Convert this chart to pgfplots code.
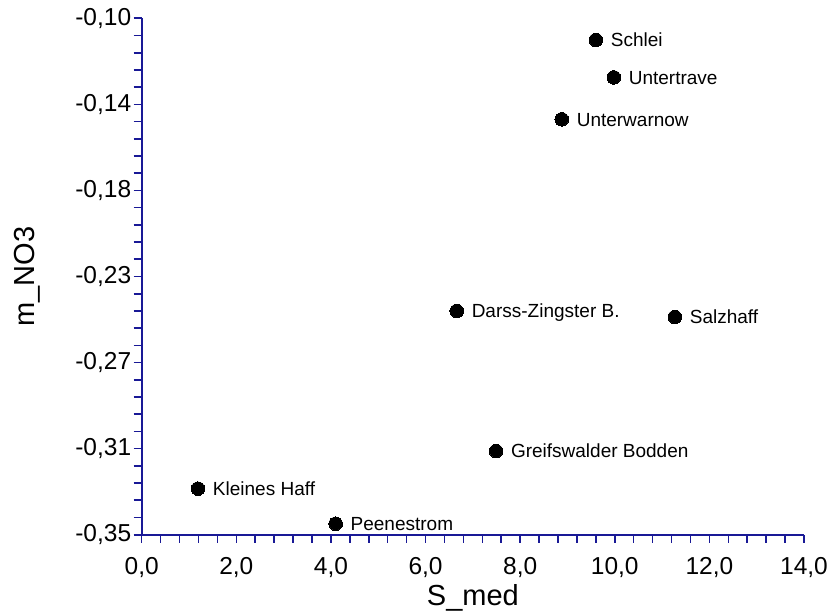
\documentclass[border=0pt]{standalone}
\usepackage{fontspec}
\setmainfont{Liberation Sans}
\usepackage{pgfplots}
\pgfplotsset{compat=1.18}
\definecolor{axblue}{RGB}{25,25,150}
\begin{document}
\begin{tikzpicture}
\begin{axis}[
  scale only axis, width=662.3bp, height=516.4bp,
  xmin=0, xmax=14, ymin=-0.35, ymax=-0.10,
  clip=false,
  axis x line=bottom, axis y line=left,
  axis line style={-, draw=axblue, line width=1.8bp},
  tick style={draw=axblue, line width=1.6bp},
  major tick style={draw=axblue, line width=1.6bp},
  minor tick style={draw=axblue, line width=1.6bp},
  tick align=outside,
  major tick length=8bp, minor tick length=8bp,
  xtick={0,2,4,6,8,10,12,14},
  xticklabels={{0,0},{2,0},{4,0},{6,0},{8,0},{10,0},{12,0},{14,0}},
  minor x tick num=4,
  ytick={-0.35,-0.308333,-0.266667,-0.225,-0.183333,-0.141667,-0.10},
  yticklabels={{-0,35},{-0,31},{-0,27},{-0,23},{-0,18},{-0,14},{-0,10}},
  minor ytick={-0.341667,-0.333333,-0.325,-0.316667,-0.3,-0.291667,-0.283333,-0.275,-0.258333,-0.25,-0.241667,-0.233333,-0.216667,-0.208333,-0.2,-0.191667,-0.175,-0.166667,-0.158333,-0.15,-0.133333,-0.125,-0.116667,-0.108333},
  ticklabel style={font=\fontsize{24.5bp}{28bp}\selectfont, text=black},
  xticklabel style={anchor=base, yshift=-32bp},
  yticklabel style={anchor=east, xshift=1bp},
  every axis x label/.style={at={(axis description cs:0.5,0)}, anchor=base, yshift=-70.3bp, font=\fontsize{29bp}{33bp}\selectfont},
  every axis y label/.style={at={(axis description cs:-0.1732,0.5)}, rotate=90, anchor=center, font=\fontsize{29bp}{33bp}\selectfont},
  xlabel={S\_med},
  ylabel={m\_NO3},
]
\addplot[only marks, mark=*, mark size=6.8bp,
  mark options={fill=black, draw=black, line width=0pt},
  nodes near coords, point meta=explicit symbolic,
  every node near coord/.append style={anchor=base west, xshift=15bp, yshift=-6.7bp,
    font=\fontsize{19bp}{22bp}\selectfont, text=black, inner sep=0pt}]
  table[meta=label] {
x y label
9.60 -0.1105 Schlei
9.98 -0.1286 Untertrave
8.88 -0.1489 Unterwarnow
6.66 -0.2417 {Darss-Zingster B.}
11.27 -0.2446 Salzhaff
7.49 -0.3095 {Greifswalder Bodden}
1.19 -0.3277 {Kleines Haff}
4.10 -0.3447 Peenestrom
};
\end{axis}
\pgfresetboundingbox
\path (-141.7bp,-78.3bp) rectangle (690.3bp,534.7bp);
\end{tikzpicture}
\end{document}
